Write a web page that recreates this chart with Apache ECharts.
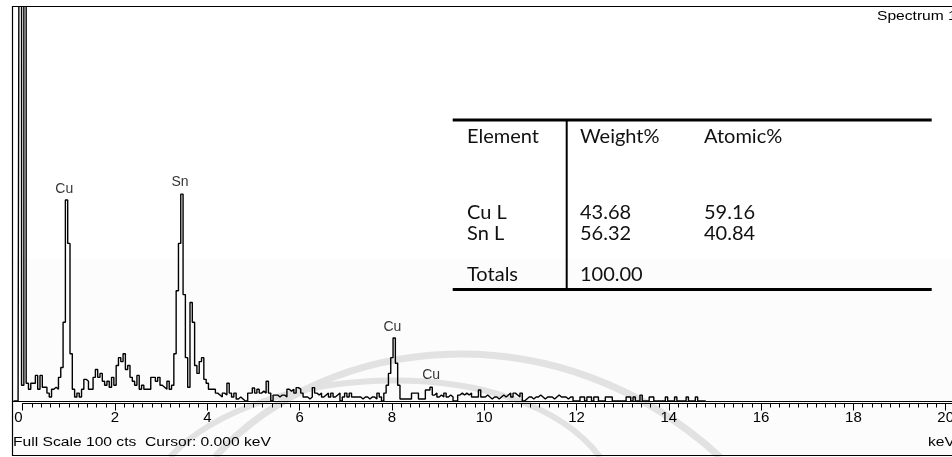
<!DOCTYPE html>
<html>
<head>
<meta charset="utf-8">
<script src="https://cdn.jsdelivr.net/npm/echarts@6/dist/echarts.min.js"></script>
<style>
  html, body { margin: 0; padding: 0; background: #fff; }
  #show_picture { width: 952px; height: 457px; }
</style>
</head>
<body>
<div id="show_picture"></div>
<script>
// EDS spectrum, channel width 0.05 keV starting at -0.2 keV
const binStart = -0.2;
const binWidth = 0.05;
const counts = [
    0, 0, 0, 150,
    4, 150, 4.5, 3, 4.5, 4.5, 6.5, 3, 6.5, 3.5, 3.5, 2, 1, 3, 3.5, 3, 6, 8.5, 20, 51,
    40, 12, 3, 1, 2, 1, 3, 5.5, 5, 3, 3, 6, 8, 6, 7, 5, 4, 5, 3.5, 6,
    4, 9, 11, 10, 12, 8, 9, 6, 5, 4, 6.5, 3, 4, 3, 3, 3, 6, 6, 5, 6,
    4, 3.5, 3, 5, 3, 4, 12, 28, 40, 52.5, 27, 11, 3.5, 25, 20, 9, 7, 10, 11, 5.5,
    4.5, 3, 3, 3, 2, 1.5, 1, 2, 1.5, 4.5, 2, 1, 2, 0.5, 1, 0.5, 0, 0, 2, 2,
    3.3, 2, 3, 2, 2.5, 2, 5, 2, 0, 1.5, 1.5, 1, 1.5, 1.5, 1, 3, 2.5, 3, 2, 3.4,
    3, 2, 1, 1, 0.5, 1, 3.4, 2, 1.5, 2, 1, 1.5, 2, 1, 2, 1, 1.5, 2, 0, 1,
    2, 1, 2, 1, 1, 1, 1, 0.5, 1, 1, 0.5, 1, 1, 0.5, 2, 1, 0, 2, 4, 7,
    11, 16, 9.6, 4, 0.5, 0.5, 0.5, 0.5, 0.5, 2, 2, 2, 0.5, 0.5, 0.5, 2.8, 2.8, 3.5, 1.5, 2,
    1, 1.5, 1, 2, 1, 1.5, 1, 0, 0, 1.5, 2, 1.5, 2, 1.5, 2, 1, 1, 1, 2.8, 1,
    1, 1.5, 1, 0.5, 1, 1, 0.5, 1, 1.5, 1, 1.5, 2, 1, 2, 1.5, 1, 2, 0, 0.5, 1,
    1, 0.5, 1, 1, 1.5, 1, 0.5, 1, 1, 1, 0.5, 1, 1.5, 1, 1, 1, 0.5, 1, 1, 0,
    0, 0, 1, 1, 0, 1, 1, 0, 1, 1, 0, 0, 0, 1, 1, 1, 0, 0, 0, 0,
    0, 0, 1, 1, 0, 1, 0, 0, 1.5, 0, 0, 0, 1, 1, 0, 0, 0, 0, 0, 1,
    0, 0, 0, 1, 0, 0, 0, 0, 1, 0, 0, 0, 1, 0, 0, 0, 0
];

// peak identification labels
const peakNames = ['Cu', 'Sn', 'Cu', 'Cu'];
const peakKeV = [0.9, 3.41, 8.01, 8.85];
const peakLabelCts = [53.7, 55.6, 18.7, 6.5];

// quantification table
const tableHeader = ['Element', 'Weight%', 'Atomic%'];
const tableElements = ['Cu L', 'Sn L'];
const tableWeight = ['43.68', '56.32'];
const tableAtomic = ['59.16', '40.84'];
const tableTotal = '100.00';

const fullScale = 100;
const spectrumName = 'Spectrum 1';

let myChart = echarts.init(document.getElementById('show_picture'));

let d = counts.map((c, i) => [+(binStart + i * binWidth).toFixed(2), c]);
let labels = peakNames.map((n, i) => ({ value: [peakKeV[i], peakLabelCts[i]], name: n }));

// layout: 0 keV at x=22.7, 46.15 px per keV
const pxPerKeV = 46.15;
const zeroX = 22.7;
const xMax = 20.6;

const sans = '"Liberation Sans", Arial, sans-serif';
const tabFont = 'Lato, "Noto Sans", sans-serif';

let colX = [467, 580, 704];
let rowY = [137, 213, 234, 275];
let tableText = [];
tableHeader.forEach((t, j) => tableText.push({ x: colX[j], y: rowY[0], t: t }));
tableElements.forEach((t, i) => {
    tableText.push({ x: colX[0], y: rowY[1 + i], t: t });
    tableText.push({ x: colX[1], y: rowY[1 + i], t: tableWeight[i] });
    tableText.push({ x: colX[2], y: rowY[1 + i], t: tableAtomic[i] });
});
tableText.push({ x: colX[0], y: rowY[3], t: 'Totals' });
tableText.push({ x: colX[1], y: rowY[3], t: tableTotal });

let graphics = [
    // faint watermark behind the plot
    { type: 'rect', z: -10, silent: true, shape: { x: 13, y: 259, width: 960, height: 198 }, style: { fill: '#fcfcfc' } },
    {
        type: 'bezierCurve', z: -9, silent: true,
        shape: { x1: 215, y1: 457, cpx1: 330, cpy1: 330, cpx2: 560, cpy2: 310, x2: 720, y2: 457 },
        style: { stroke: '#e2e2e2', lineWidth: 7, fill: null }
    },
    {
        type: 'bezierCurve', z: -9, silent: true,
        shape: { x1: 170, y1: 457, cpx1: 260, cpy1: 360, cpx2: 520, cpy2: 350, x2: 600, y2: 457 },
        style: { stroke: '#e2e2e2', lineWidth: 6, fill: null }
    },
    {
        type: 'rect', z: 0, silent: true,
        shape: { x: 12.5, y: 6.5, width: 990, height: 449 },
        style: { fill: null, stroke: '#000', lineWidth: 1.2 }
    },
    {
        type: 'text', x: 13, y: 443, scaleX: 1.25, z: 5,
        style: { text: 'Full Scale ' + fullScale + ' cts  Cursor: 0.000 keV', font: '12.5px ' + sans, fill: '#000', verticalAlign: 'middle' }
    },
    {
        type: 'text', x: 928, y: 443, scaleX: 1.25, z: 5,
        style: { text: 'keV', font: '12.5px ' + sans, fill: '#000', verticalAlign: 'middle' }
    },
    {
        type: 'text', x: 877, y: 16, scaleX: 1.2, z: 5,
        style: { text: spectrumName, font: '13px ' + sans, fill: '#000', verticalAlign: 'middle' }
    },
    { type: 'line', z: 5, shape: { x1: 452.7, y1: 120, x2: 931.7, y2: 120 }, style: { stroke: '#000', lineWidth: 3 } },
    { type: 'line', z: 5, shape: { x1: 452.7, y1: 289.5, x2: 931.7, y2: 289.5 }, style: { stroke: '#000', lineWidth: 3 } },
    { type: 'line', z: 5, shape: { x1: 566.7, y1: 120, x2: 566.7, y2: 289.5 }, style: { stroke: '#000', lineWidth: 2 } }
];
tableText.forEach(c => graphics.push({
    type: 'text', x: c.x, y: c.y, z: 5,
    style: { text: c.t, font: '20px ' + tabFont, fill: '#111', verticalAlign: 'middle' }
}));

let option = {
    animation: false,
    grid: [
        { left: zeroX + binStart * pxPerKeV, top: 7, width: (xMax - binStart) * pxPerKeV, height: 394, outerBoundsMode: 'none', containLabel: false },
        { left: zeroX, top: 7, width: xMax * pxPerKeV, height: 396.5, outerBoundsMode: 'none', containLabel: false }
    ],
    xAxis: [
        {
            type: 'value', gridIndex: 0, min: binStart, max: xMax,
            axisLine: { show: true, lineStyle: { color: '#000', width: 1 } },
            axisTick: { show: false }, axisLabel: { show: false }, splitLine: { show: false }
        },
        {
            type: 'value', gridIndex: 1, min: 0, max: xMax, interval: 2,
            axisLine: { show: true, lineStyle: { color: '#000', width: 1 } },
            axisTick: { show: true, length: 7, lineStyle: { color: '#000' } },
            minorTick: { show: true, splitNumber: 10, length: 4, lineStyle: { color: '#000' } },
            axisLabel: {
                color: '#000', fontSize: 15, fontFamily: sans, margin: 7,
                alignMinLabel: 'right',
                formatter: v => (Math.abs(v % 2) < 1e-6 ? String(v) : '')
            },
            splitLine: { show: false }
        }
    ],
    yAxis: [
        { type: 'value', gridIndex: 0, min: 0, max: fullScale, show: false },
        { type: 'value', gridIndex: 1, min: 0, max: fullScale, show: false }
    ],
    series: [
        {
            name: spectrumName,
            type: 'line',
            xAxisIndex: 0, yAxisIndex: 0,
            step: 'middle',
            symbol: 'none',
            clip: true,
            lineStyle: { color: '#000', width: 1.4 },
            data: d
        },
        {
            type: 'scatter',
            xAxisIndex: 0, yAxisIndex: 0,
            symbolSize: 0,
            label: {
                show: true, position: 'inside', formatter: '{b}',
                color: '#000', fontSize: 14, fontFamily: sans
            },
            data: labels
        }
    ],
    graphic: { elements: graphics }
};

option && myChart.setOption(option);
</script>
</body>
</html>
